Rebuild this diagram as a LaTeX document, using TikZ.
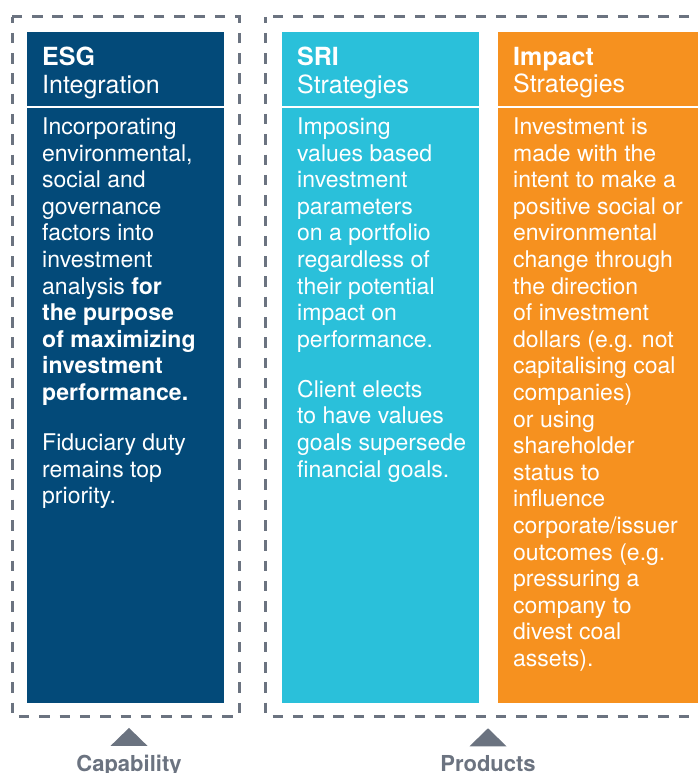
\documentclass[tikz,border=0pt]{standalone}
\usepackage{fontspec}
\setmainfont{TeX Gyre Heros}
\usetikzlibrary{positioning, calc}
\definecolor{esgblue}{HTML}{034A79}
\definecolor{sricyan}{HTML}{2AC0DA}
\definecolor{impactorange}{HTML}{F6911F}
\definecolor{framegray}{HTML}{6B7380}

\begin{document}
\begin{tikzpicture}[
    x=1pt, y=-1pt,
    column/.style={rectangle, inner sep=0pt, outer sep=0pt, minimum width=197pt, minimum height=671pt},
    heading/.style={anchor=north west, inner sep=0pt, text=white, align=left, font=\fontsize{25}{27.5}\selectfont},
    body/.style={anchor=north west, inner sep=0pt, text=white, align=left, font=\fontsize{23}{26.6}\selectfont},
    frame/.style={draw=framegray, line width=3pt, dash pattern=on 10.5pt off 9.8pt, dash phase=4.5pt},
    divider/.style={draw=white, line width=2pt},
    pointer/.style={fill=framegray},
    caption/.style={text=framegray, inner sep=0pt, anchor=base, font=\fontsize{22}{26}\selectfont\bfseries}
]
\useasboundingbox (0,0) rectangle (697,773);

% dashed groups
\draw[frame] (12,17) rectangle (239.5,716);
\draw[frame] (265.5,17) rectangle (720,716);

% columns
\node[column, fill=esgblue, anchor=north west] (esg) at (27,32) {};
\node[column, fill=sricyan, right=58pt of esg] (sri) {};
\node[column, fill=impactorange, minimum width=205pt, right=19pt of sri] (impact) {};

\foreach \c in {esg, sri, impact}
    \draw[divider] ([yshift=-75.5pt]\c.north west) -- ([yshift=-75.5pt]\c.north east);

% headings
\node[heading] (esghd) at ([xshift=15pt, yshift=-15pt]esg.north west) {\textbf{ESG}\\Integration};
\node[heading] (srihd) at ([xshift=15pt, yshift=-15pt]sri.north west) {\textbf{SRI}\\Strategies};
\node[heading] (imphd) at ([xshift=15pt, yshift=-15pt]impact.north west) {\textbf{Impact}\\Strategies};

% texts
\node[body] (esgtxt) at ([xshift=15pt, yshift=-85.5pt]esg.north west) {Incorporating\\environmental,\\social and\\governance\\factors into\\investment\\analysis \textbf{for}\\\textbf{the purpose}\\\textbf{of maximizing}\\\textbf{investment}\\\textbf{performance.}\\[23.4pt]Fiduciary duty\\remains top\\priority.};
\node[body] (sritxt) at ([xshift=15pt, yshift=-85.5pt]sri.north west) {Imposing\\values based\\investment\\parameters\\on a portfolio\\regardless of\\their potential\\impact on\\performance.\\[23.4pt]Client elects\\to have values\\goals supersede\\financial goals.};
\node[body] (imptxt) at ([xshift=15pt, yshift=-85.5pt]impact.north west) {Investment is\\made with the\\intent to make a\\positive social or\\environmental\\change through\\the direction\\of investment\\dollars (e.g. not\\capitalising coal\\companies)\\or using\\shareholder\\status to\\influence\\corporate/issuer\\outcomes (e.g.\\pressuring a\\company to\\divest coal\\assets).};

% captions
\node[caption] (capl) at (129,771) {Capability};
\node[caption] (prodl) at (488,771) {Products};
\fill[pointer] ($(capl.north)+(-18.5,-8.5)$) -- ++(37,0) -- ++(-18.5,-18) -- cycle;
\fill[pointer] ($(prodl.north)+(-18.5,-8.5)$) -- ++(37,0) -- ++(-18.5,-18) -- cycle;

\end{tikzpicture}
\end{document}
